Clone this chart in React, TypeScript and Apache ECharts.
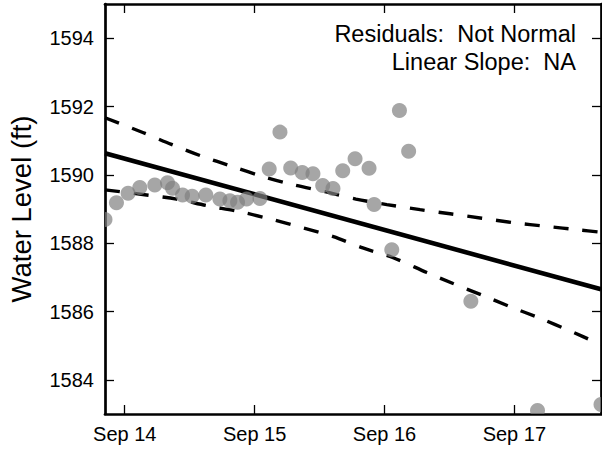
import React, { useEffect, useRef } from "react";
import * as echarts from "echarts";

// Observed water levels (local time, ft)
const obsTimes = [
  "2015-09-13 20:21", "2015-09-13 22:28", "2015-09-14 00:37", "2015-09-14 02:47",
  "2015-09-14 05:33", "2015-09-14 07:54", "2015-09-14 08:50", "2015-09-14 10:41",
  "2015-09-14 12:27", "2015-09-14 14:59", "2015-09-14 17:35", "2015-09-14 19:26",
  "2015-09-14 20:51", "2015-09-14 22:31", "2015-09-15 00:59", "2015-09-15 02:42",
  "2015-09-15 04:41", "2015-09-15 06:40", "2015-09-15 08:48", "2015-09-15 10:47",
  "2015-09-15 12:35", "2015-09-15 14:29", "2015-09-15 16:17", "2015-09-15 18:34",
  "2015-09-15 21:09", "2015-09-15 22:05", "2015-09-16 01:21", "2015-09-16 02:46",
  "2015-09-16 04:28", "2015-09-16 15:58", "2015-09-17 04:17", "2015-09-17 16:01",
];
const obsLevels = [
  1588.69, 1589.18, 1589.46, 1589.63, 1589.70, 1589.77, 1589.61, 1589.41,
  1589.37, 1589.41, 1589.29, 1589.24, 1589.20, 1589.29, 1589.31, 1590.17,
  1591.25, 1590.20, 1590.07, 1590.03, 1589.69, 1589.60, 1590.12, 1590.47,
  1590.19, 1589.13, 1587.81, 1591.88, 1590.69, 1586.30, 1583.10, 1583.28,
];

// Linear fit
const fitTimes = ["2015-09-13 20:21", "2015-09-17 16:01"];
const fitLevels = [1590.63, 1586.65];

// Upper confidence band
const upperTimes = [
  "2015-09-13 20:21", "2015-09-14 03:20", "2015-09-14 08:38", "2015-09-14 14:11",
  "2015-09-14 19:59", "2015-09-15 01:32", "2015-09-15 07:08", "2015-09-15 13:00",
  "2015-09-15 18:44", "2015-09-16 00:26", "2015-09-16 06:35", "2015-09-16 12:08",
  "2015-09-16 18:00", "2015-09-16 23:48", "2015-09-17 06:02", "2015-09-17 11:48",
  "2015-09-17 16:01",
];
const upperLevels = [
  1591.67, 1591.24, 1590.89, 1590.55, 1590.24, 1589.95, 1589.71, 1589.51,
  1589.29, 1589.13, 1588.98, 1588.86, 1588.73, 1588.60, 1588.49, 1588.39,
  1588.32,
];

// Lower confidence band
const lowerTimes = [
  "2015-09-13 20:21", "2015-09-14 04:01", "2015-09-14 09:34", "2015-09-14 15:07",
  "2015-09-14 21:17", "2015-09-15 02:50", "2015-09-15 08:23", "2015-09-15 14:33",
  "2015-09-15 20:00", "2015-09-16 01:30", "2015-09-16 07:50", "2015-09-16 12:41",
  "2015-09-16 18:00", "2015-09-16 23:14", "2015-09-17 04:47", "2015-09-17 10:20",
  "2015-09-17 16:01",
];
const lowerLevels = [
  1589.56, 1589.41, 1589.29, 1589.10, 1588.92, 1588.71, 1588.47, 1588.19,
  1587.86, 1587.58, 1587.14, 1586.82, 1586.48, 1586.14, 1585.80, 1585.43,
  1585.03,
];

const xTickDates = ["2015-09-14 00:00", "2015-09-15 00:00", "2015-09-16 00:00", "2015-09-17 00:00"];
const xTickLabels = ["Sep 14", "Sep 15", "Sep 16", "Sep 17"];
const yTicks = [1584, 1586, 1588, 1590, 1592, 1594];
const yMin = 1583;
const yMax = 1595;
const annotationLines = ["Residuals:  Not Normal", "Linear Slope:  NA"];
const yAxisTitle = "Water Level (ft)";

const FONT = "'Liberation Sans', Arial, Helvetica, sans-serif";

function ts(s: string): number {
  return +(echarts.time.parse(s) as Date);
}

export default function App() {
  const ref = useRef<HTMLDivElement>(null);

  useEffect(() => {
    if (!ref.current) return;
    const chart = echarts.init(ref.current, null, { renderer: "svg" });

    const obsX = obsTimes.map(ts);
    const xMin = Math.min(...obsX);
    const xMax = Math.max(...obsX);
    const xTickVals = xTickDates.map(ts);
    const fmtX = (v: number) => {
      const i = xTickVals.findIndex((t) => Math.abs(t - v) < 1000);
      return i >= 0 ? xTickLabels[i] : "";
    };

    const frameLine = { show: true, lineStyle: { color: "#000", width: 2.7 } };
    const tickStyle = { color: "#000", width: 1.3 };

    const pair = (t: string[], v: number[]) => t.map((s, i) => [ts(s), v[i]]);

    const option: any = {
      animation: false,
      backgroundColor: "#fff",
      grid: { left: 105, top: 4, right: 1, bottom: 36, containLabel: false },
      xAxis: [
        {
          type: "value",
          position: "bottom",
          min: xMin,
          max: xMax,
          axisLine: frameLine,
          axisTick: { show: true, inside: true, length: 9, lineStyle: tickStyle, customValues: xTickVals },
          axisLabel: {
            show: true, customValues: xTickVals, formatter: fmtX,
            color: "#000", fontSize: 20, fontFamily: FONT, margin: 10,
          },
          splitLine: { show: false },
        },
        {
          type: "value",
          position: "top",
          min: xMin,
          max: xMax,
          axisLine: frameLine,
          axisTick: { show: true, inside: true, length: 9, lineStyle: tickStyle, customValues: xTickVals },
          axisLabel: { show: false },
          splitLine: { show: false },
        },
      ],
      yAxis: [
        {
          type: "value",
          position: "left",
          min: yMin,
          max: yMax,
          axisLine: frameLine,
          axisTick: { show: true, inside: true, length: 9, lineStyle: tickStyle, customValues: yTicks },
          axisLabel: {
            show: true, customValues: yTicks, formatter: (v: number) => String(v),
            color: "#000", fontSize: 20, fontFamily: FONT, margin: 11,
          },
          splitLine: { show: false },
        },
        {
          type: "value",
          position: "right",
          min: yMin,
          max: yMax,
          axisLine: frameLine,
          axisTick: { show: true, inside: true, length: 9, lineStyle: tickStyle, customValues: yTicks },
          axisLabel: { show: false },
          splitLine: { show: false },
        },
      ],
      series: [
        {
          type: "line",
          data: pair(fitTimes, fitLevels),
          symbol: "none",
          lineStyle: { color: "#000", width: 4.6 },
          z: 3,
        },
        {
          type: "line",
          data: pair(upperTimes, upperLevels),
          symbol: "none",
          smooth: 0.3,
          lineStyle: { color: "#000", width: 3.4, type: [15, 14] },
          z: 3,
        },
        {
          type: "line",
          data: pair(lowerTimes, lowerLevels),
          symbol: "none",
          smooth: 0.3,
          lineStyle: { color: "#000", width: 3.4, type: [15, 14] },
          z: 3,
        },
        {
          type: "custom",
          clip: true,
          data: pair(obsTimes, obsLevels),
          z: 4,
          renderItem: (params: any, api: any) => {
            const p = api.coord([api.value(0), api.value(1)]);
            return {
              type: "circle",
              shape: { cx: p[0], cy: p[1], r: 7.5 },
              style: { fill: "rgba(128,128,128,0.7)" },
            };
          },
        },
      ],
      graphic: [
        ...annotationLines.map((line, i) => ({
          type: "text",
          x: 576,
          y: 34 + i * 28,
          style: {
            text: line,
            align: "right",
            verticalAlign: "middle",
            fill: "#000",
            fontSize: 23.5,
            fontFamily: FONT,
          },
          z: 10,
        })),
        {
          type: "text",
          x: 21,
          y: 209,
          rotation: Math.PI / 2,
          style: {
            text: yAxisTitle,
            align: "center",
            verticalAlign: "middle",
            fill: "#000",
            fontSize: 27.5,
            fontFamily: FONT,
          },
        },
      ],
    };

    chart.setOption(option);
    return () => chart.dispose();
  }, []);

  return (
    <>
      <style>{"svg text{white-space:pre}"}</style>
      <div ref={ref} style={{ width: 602, height: 450, position: "absolute", left: 0, top: 0 }} />
    </>
  );
}
